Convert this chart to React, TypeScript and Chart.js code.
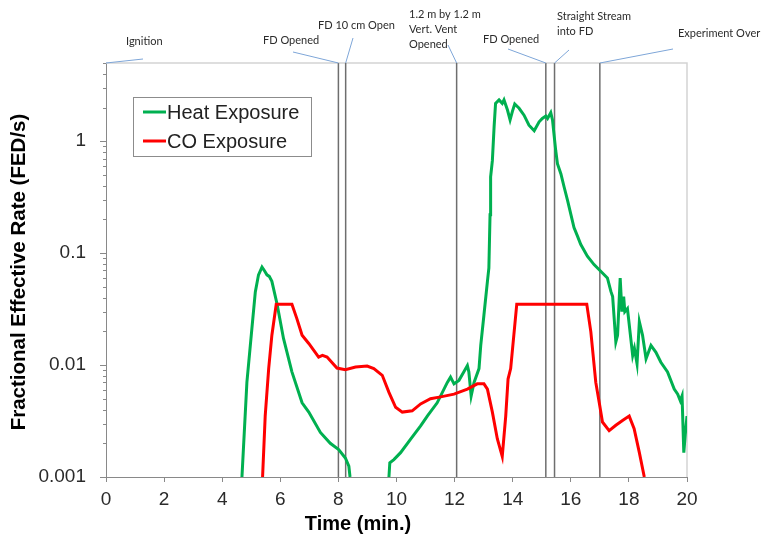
import React, { useEffect, useRef } from "react";
import { Chart, registerables } from "chart.js";

Chart.register(...registerables);

// ---------- data ----------
const seriesNames = ["Heat Exposure", "CO Exposure"];

const heatTime = [
  4.68, 4.85, 5.02, 5.14, 5.25, 5.37, 5.45, 5.54, 5.62, 5.71, 5.89, 6.11, 6.4, 6.75, 6.98, 7.38, 7.72, 8.01, 8.24, 8.36, 8.4,
  8.6,
  9.74, 9.77, 9.91, 10.14, 10.48, 10.83, 11.06, 11.4, 11.75, 11.86, 11.98, 12.15, 12.32, 12.44, 12.49, 12.57, 12.67, 12.84,
  12.9, 13.01, 13.13, 13.18, 13.22, 13.24, 13.3, 13.36, 13.41, 13.53, 13.64, 13.7, 13.82, 13.91, 13.99, 14.07, 14.22, 14.39,
  14.56, 14.74, 14.91, 15.02, 15.14, 15.2, 15.31, 15.37, 15.48, 15.54, 15.66, 15.77, 15.89, 16.0, 16.11, 16.23, 16.34, 16.57,
  16.8, 17.09, 17.26, 17.38, 17.44, 17.55, 17.61, 17.7, 17.76, 17.82, 17.86, 17.95, 18.13, 18.19, 18.28, 18.36, 18.47, 18.59,
  18.76, 18.93, 19.1, 19.33, 19.56, 19.68, 19.77, 19.83, 19.89, 19.94, 20.0,
];
const heatValue = [
  0.001, 0.007, 0.021, 0.045, 0.064, 0.075, 0.07, 0.064, 0.062, 0.056, 0.035, 0.0173, 0.0087, 0.0046, 0.0038, 0.0025, 0.002,
  0.00176, 0.00148, 0.00125, 0.001,
  null,
  0.001, 0.00134, 0.00143, 0.00165, 0.00217, 0.00286, 0.0035, 0.0046, 0.007, 0.0078, 0.0068, 0.0073, 0.0087, 0.0099, 0.0087,
  0.0053, 0.007, 0.0093, 0.015, 0.028, 0.056, 0.074, 0.22, 0.48, 0.67, 1.35, 2.18, 2.34, 2.18, 2.34, 1.9, 1.55, 1.85, 2.15,
  1.97, 1.71, 1.39, 1.24, 1.49, 1.6, 1.68, 1.6, 1.8, 1.55, 0.83, 0.63, 0.51, 0.39, 0.294, 0.223, 0.169, 0.142, 0.12, 0.094,
  0.079, 0.0665, 0.06, 0.0455, 0.041, 0.0161, 0.0185, 0.06, 0.03, 0.041, 0.03, 0.032, 0.0122, 0.0141, 0.0103, 0.0244, 0.0185,
  0.0114, 0.015, 0.013, 0.0106, 0.0087, 0.0061, 0.0055, 0.0048, 0.0053, 0.00165, 0.0024, 0.0035,
];

const coTime = [
  5.39, 5.48, 5.6, 5.71, 5.86, 6.4, 6.57, 6.75, 6.98, 7.32, 7.45, 7.61, 7.95, 8.24, 8.59, 8.99, 9.22, 9.51, 9.74, 9.97, 10.2,
  10.54, 10.83, 11.17, 11.52, 11.98, 12.44, 12.78, 13.01, 13.13, 13.3, 13.47, 13.64, 13.76, 13.84, 13.93, 14.14, 16.55, 16.69,
  16.86, 16.98, 17.09, 17.32, 17.55, 17.78, 18.01, 18.18, 18.36, 18.53,
];
const coValue = [
  0.001, 0.0035, 0.0093, 0.0185, 0.035, 0.035, 0.026, 0.0185, 0.0156, 0.0118, 0.0122, 0.0118, 0.0094, 0.0091, 0.0096, 0.0098,
  0.0093, 0.0081, 0.0057, 0.0042, 0.0038, 0.0039, 0.0045, 0.005, 0.0052, 0.0055, 0.0061, 0.0068, 0.0068, 0.0061, 0.0038,
  0.0022, 0.00153, 0.0035, 0.0075, 0.0093, 0.035, 0.035, 0.0198, 0.007, 0.0046, 0.0031, 0.0026, 0.0029, 0.0032, 0.0035, 0.0027,
  0.00165, 0.001,
];

const xTicks = [0, 2, 4, 6, 8, 10, 12, 14, 16, 18, 20];
const yMajorTicks = [0.001, 0.01, 0.1, 1];
const yTickLabels = ["0.001", "0.01", "0.1", "1"];

const eventTimes = [0, 8.0, 8.25, 12.07, 15.14, 15.44, 17.0];
const eventLabels = [
  ["Ignition"],
  ["FD Opened"],
  ["FD 10 cm Open"],
  ["1.2 m by 1.2 m", "Vert. Vent", "Opened"],
  ["FD Opened"],
  ["Straight Stream", "into FD"],
  ["Experiment Over"],
];

const xTitle = "Time (min.)";
const yTitle = "Fractional Effective Rate (FED/s)";

// ---------- styling / layout ----------
const GREEN = "#00b050";
const RED = "#ff0000";
const AXIS = "#898989";
const FONT = '"Liberation Sans", Arial, sans-serif';
const NOTE_FONT = 'Lato, "Open Sans", sans-serif';

// text anchor (left x, first-line center y) and leader end point, per event label
const labelLayout = [
  { tx: 126, ty: 41, lx: 143, ly: 59 },
  { tx: 263, ty: 40, lx: 293, ly: 52 },
  { tx: 318, ty: 25, lx: 353, ly: 38 },
  { tx: 409, ty: 14, lx: 448, ly: 45 },
  { tx: 483, ty: 39, lx: 508, ly: 49 },
  { tx: 557, ty: 16, lx: 569, ly: 50 },
  { tx: 678, ty: 33, lx: 673, ly: 49 },
];

const decorPlugin = {
  id: "decor",
  beforeDatasetsDraw(chart: any) {
    const { ctx, chartArea, scales } = chart;
    const xs = scales.x;
    ctx.save();
    ctx.strokeStyle = "#d4d4d4";
    ctx.lineWidth = 1.5;
    ctx.beginPath();
    ctx.moveTo(chartArea.left, chartArea.top);
    ctx.lineTo(chartArea.right, chartArea.top);
    ctx.lineTo(chartArea.right, chartArea.bottom);
    ctx.stroke();
    ctx.strokeStyle = "#6e6e6e";
    ctx.lineWidth = 1.5;
    eventTimes.forEach((t, i) => {
      if (i === 0) return;
      const px = xs.getPixelForValue(t);
      ctx.beginPath();
      ctx.moveTo(px, chartArea.top);
      ctx.lineTo(px, chartArea.bottom);
      ctx.stroke();
    });
    ctx.restore();
  },
  afterDraw(chart: any) {
    const { ctx, chartArea, scales } = chart;
    const xs = scales.x;
    const ys = scales.y;
    ctx.save();

    // minor y ticks
    ctx.strokeStyle = AXIS;
    ctx.lineWidth = 1;
    yMajorTicks.forEach((d) => {
      for (let m = 2; m <= 9; m++) {
        const v = m * d;
        if (v > ys.max) continue;
        const py = Math.round(ys.getPixelForValue(v)) + 0.5;
        ctx.beginPath();
        ctx.moveTo(chartArea.left - 3, py);
        ctx.lineTo(chartArea.left, py);
        ctx.stroke();
      }
    });

    // annotations
    ctx.font = `11px ${NOTE_FONT}`;
    ctx.textBaseline = "middle";
    ctx.textAlign = "left";
    eventTimes.forEach((t, i) => {
      const px = xs.getPixelForValue(t);
      const L = labelLayout[i];
      ctx.strokeStyle = "#7ea6d8";
      ctx.lineWidth = 1;
      ctx.beginPath();
      ctx.moveTo(px, chartArea.top);
      ctx.lineTo(L.lx, L.ly);
      ctx.stroke();
      ctx.fillStyle = "#2b2b2b";
      eventLabels[i].forEach((line, k) => {
        ctx.fillText(line, L.tx, L.ty + k * 15.3);
      });
    });

    // legend
    const lx = 133.5, ly = 97.5, lw = 178, lh = 59;
    ctx.fillStyle = "#ffffff";
    ctx.fillRect(lx, ly, lw, lh);
    ctx.strokeStyle = "#8c8c8c";
    ctx.lineWidth = 1;
    ctx.strokeRect(lx, ly, lw, lh);
    const colors = [GREEN, RED];
    ctx.font = `20px ${FONT}`;
    ctx.textBaseline = "middle";
    seriesNames.forEach((name, i) => {
      const cy = 112 + i * 29;
      ctx.strokeStyle = colors[i];
      ctx.lineWidth = 3;
      ctx.beginPath();
      ctx.moveTo(143, cy);
      ctx.lineTo(166, cy);
      ctx.stroke();
      ctx.fillStyle = "#222222";
      ctx.fillText(name, 167, cy + 1);
    });

    // axis titles
    ctx.fillStyle = "#000000";
    ctx.font = `bold 20px ${FONT}`;
    ctx.textAlign = "center";
    ctx.textBaseline = "middle";
    ctx.fillText(xTitle, 358, 524);
    ctx.translate(19, 272);
    ctx.rotate(-Math.PI / 2);
    ctx.font = `bold 20.5px ${FONT}`;
    ctx.fillText(yTitle, 0, 0);
    ctx.restore();
  },
};

export default function App() {
  const ref = useRef<HTMLCanvasElement | null>(null);

  useEffect(() => {
    const canvas = ref.current;
    if (!canvas) return;
    const chart = new Chart(canvas, {
      type: "line",
      data: {
        datasets: [
          {
            label: seriesNames[0],
            data: heatTime.map((t, i) => ({ x: t, y: heatValue[i] })) as any,
            borderColor: GREEN,
            backgroundColor: GREEN,
            borderWidth: 3,
            pointRadius: 0,
            tension: 0,
            spanGaps: false,
            order: 1,
          },
          {
            label: seriesNames[1],
            data: coTime.map((t, i) => ({ x: t, y: coValue[i] })) as any,
            borderColor: RED,
            backgroundColor: RED,
            borderWidth: 3,
            pointRadius: 0,
            tension: 0,
            order: 0,
          },
        ],
      },
      options: {
        responsive: false,
        animation: false,
        layout: { padding: { left: 0, top: 63, right: 76, bottom: 0 } },
        plugins: {
          legend: { display: false },
          tooltip: { enabled: false },
          title: { display: false },
        },
        scales: {
          x: {
            type: "linear",
            min: 0,
            max: 20,
            afterBuildTicks: (s: any) => {
              s.ticks = xTicks.map((v) => ({ value: v }));
            },
            afterFit: (s: any) => {
              s.height = 64;
            },
            ticks: {
              autoSkip: false,
              maxRotation: 0,
              padding: 6,
              color: "#2a2a2a",
              font: { family: FONT, size: 19 },
              callback: (v: any) => String(v),
            },
            grid: { drawOnChartArea: false, drawTicks: true, tickLength: 5, color: AXIS },
            border: { color: AXIS, width: 1 },
          },
          y: {
            type: "logarithmic",
            min: 0.001,
            max: 5,
            afterBuildTicks: (s: any) => {
              s.ticks = yMajorTicks.map((v) => ({ value: v }));
            },
            afterFit: (s: any) => {
              s.width = 106;
            },
            ticks: {
              autoSkip: false,
              padding: 14,
              color: "#2a2a2a",
              font: { family: FONT, size: 19 },
              callback: (v: any) => {
                const i = yMajorTicks.findIndex((m) => Math.abs(m - Number(v)) < m * 1e-6);
                return i >= 0 ? yTickLabels[i] : "";
              },
            },
            grid: { drawOnChartArea: false, drawTicks: true, tickLength: 6, color: AXIS },
            border: { color: AXIS, width: 1 },
          },
        },
      } as any,
      plugins: [decorPlugin],
    });
    return () => chart.destroy();
  }, []);

  return (
    <div style={{ position: "fixed", left: 0, top: 0, width: 763, height: 541, background: "#ffffff" }}>
      <canvas ref={ref} width={763} height={541} style={{ display: "block" }} />
    </div>
  );
}
